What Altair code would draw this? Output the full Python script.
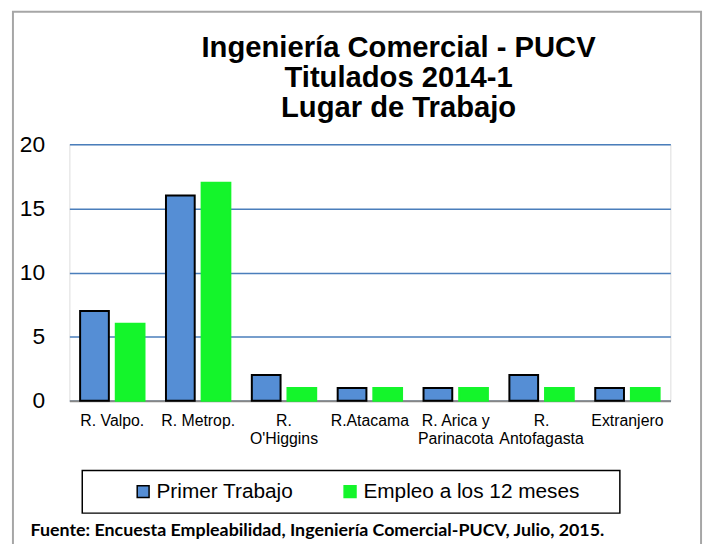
import json
import altair as alt
import pandas as pd

categories = ["R. Valpo.", "R. Metrop.", "R. O'Higgins", "R.Atacama",
              "R. Arica y Parinacota", "R. Antofagasta", "Extranjero"]
label_lines = {
    "R. O'Higgins": ["R.", "O'Higgins"],
    "R. Arica y Parinacota": ["R. Arica y", "Parinacota"],
    "R. Antofagasta": ["R.", "Antofagasta"],
}
series = ["Primer Trabajo", "Empleo a los 12 meses"]
primer_trabajo = [7, 16, 2, 1, 1, 2, 1]
empleo_12 = [6, 17, 1, 1, 1, 1, 1]
y_ticks = [0, 5, 10, 15, 20]
title_lines = ["Ingeniería Comercial - PUCV", "Titulados 2014-1", "Lugar de Trabajo"]
footer = "Fuente: Encuesta Empleabilidad, Ingeniería Comercial-PUCV, Julio, 2015."

rows = []
for c, a, b in zip(categories, primer_trabajo, empleo_12):
    rows.append({"region": c, "series": series[0], "value": a})
    rows.append({"region": c, "series": series[1], "value": b})
df = pd.DataFrame(rows)

expr = "datum.label"
for k, v in label_lines.items():
    expr = f"datum.label == {json.dumps(k)} ? {json.dumps(v)} : ({expr})"

FONT = "Liberation Sans"

def make_legend():
    return alt.Legend(orient="none", legendX=64, legendY=340,
                      direction="horizontal", labelFontSize=21,
                      labelFont=FONT, labelColor="black", labelLimit=0,
                      symbolType="square", symbolSize=144,
                      symbolStrokeWidth=1.5, labelOffset=3,
                      columnPadding=46, padding=0)

bars = alt.Chart(df).mark_bar(strokeWidth=2).encode(
    x=alt.X("region:N", sort=categories, title=None,
            scale=alt.Scale(paddingInner=0.25, paddingOuter=0.125),
            axis=alt.Axis(labelAngle=0, labelFontSize=16, labelFont=FONT,
                          labelColor="black", labelPadding=12, labelLineHeight=18,
                          labelBaseline="top", labelLimit=0, ticks=False,
                          domain=True, domainColor="#868686", domainWidth=2,
                          labelExpr=expr)),
    xOffset=alt.XOffset("series:N", sort=series,
                        scale=alt.Scale(paddingInner=0.194, paddingOuter=0)),
    y=alt.Y("value:Q", title=None,
            scale=alt.Scale(domain=[0, 20], nice=False),
            axis=alt.Axis(values=y_ticks, labelFontSize=23, labelFont=FONT,
                          labelColor="black", labelPadding=25, ticks=False,
                          domain=False, grid=True, gridColor="#4A7EBB",
                          gridWidth=1.5)),
    color=alt.Color("series:N", sort=series, title=None,
                    scale=alt.Scale(domain=series, range=["#558ED5", "#14F52B"]),
                    legend=make_legend()),
    stroke=alt.Stroke("series:N", sort=series, title=None,
                      scale=alt.Scale(domain=series, range=["#000000", "#14F52B"]),
                      legend=make_legend()),
)

one = alt.Data(values=[{}])

outer = alt.Chart(one).mark_rect(fill="transparent", stroke="#A6A6A6", strokeWidth=2).encode(
    x=alt.value(-57), x2=alt.value(638), y=alt.value(-134), y2=alt.value(430))

title = alt.Chart(one).mark_text(font=FONT, fontWeight="bold", fontSize=29.5, lineHeight=30,
                                 align="center", baseline="top", color="black").encode(
    x=alt.value(332.5), y=alt.value(-111), text=alt.value(title_lines))

legend_box = alt.Chart(one).mark_rect(fill="transparent", stroke="black", strokeWidth=1.5).encode(
    x=alt.value(13), x2=alt.value(556), y=alt.value(329.5), y2=alt.value(372.5))

foot = alt.Chart(one).mark_text(font="Lato", fontWeight="bold", fontSize=18,
                                align="center", baseline="alphabetic", color="black").encode(
    x=alt.value(250.5), y=alt.value(396), text=alt.value(footer))

chart = alt.layer(outer, title, bars, legend_box, foot).properties(
    width=607, height=259,
    autosize=alt.AutoSizeParams(type="none"),
    padding={"left": 62, "top": 135, "right": 36, "bottom": 142},
).configure_view(stroke="black", strokeWidth=1.5).configure(background="white")

chart.save("out.html", embed_options={"renderer": "svg", "actions": False})
